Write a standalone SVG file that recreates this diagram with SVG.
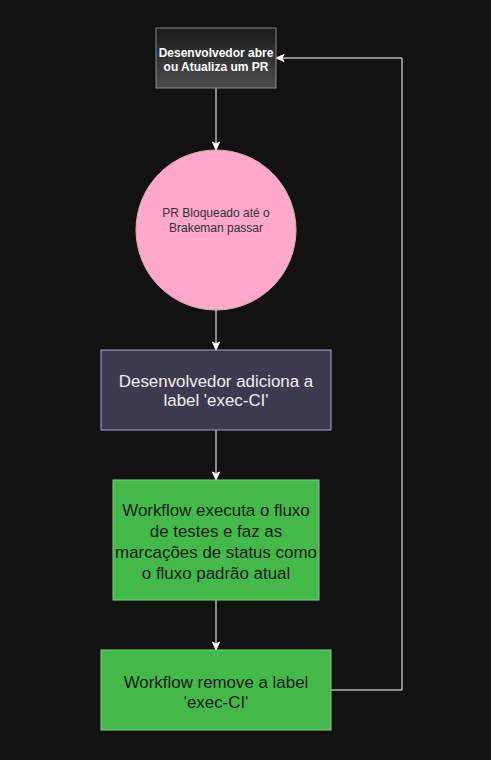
<svg xmlns="http://www.w3.org/2000/svg" width="491" height="760" viewBox="0 0 491 760">
<defs>
<linearGradient id="g1" x1="0" y1="0" x2="0" y2="1">
<stop offset="0" stop-color="#1a1a1a"/>
<stop offset="1" stop-color="#4d4d4d"/>
</linearGradient>
<marker id="arr" markerWidth="10" markerHeight="10" refX="8" refY="5" orient="auto" markerUnits="userSpaceOnUse">
<path d="M1,1.5 L9,5 L1,8.5 L3,5 Z" fill="#ffffff" stroke="#ffffff" stroke-width="1"/>
</marker>
<style>
text{font-family:"Liberation Sans",Arial,Helvetica,sans-serif;text-anchor:middle;}
.conn{fill:none;stroke:#ffffff;stroke-width:1;marker-end:url(#arr);}
.green{fill:#43b94a;stroke:#82cd7e;stroke-width:1;}
.dk{fill:#1a1a1a;font-size:16.9px;}
.lt{fill:#f0f0f0;font-size:16.9px;}
</style>
</defs>
<rect x="0" y="0" width="491" height="760" fill="#121212"/>
<g id="connectors">
<path class="conn" d="M216,88 L216,149"/>
<path class="conn" d="M216,310 L216,349"/>
<path class="conn" d="M216,430 L216,479"/>
<path class="conn" d="M216,600 L216,649"/>
<path class="conn" d="M331,690 L402,690 L402,58 L277,58"/>
</g>
<g id="n1">
<rect x="156" y="28" width="120" height="60" fill="url(#g1)" stroke="#8a8a8a" stroke-width="1"/>
<text x="216" y="57" font-size="12" font-weight="bold" fill="#ffffff">Desenvolvedor abre</text>
<text x="216" y="71" font-size="12" font-weight="bold" fill="#ffffff">ou Atualiza um PR</text>
</g>
<g id="n2">
<circle cx="216" cy="230" r="80" fill="#ffa8cb" stroke="#d8b0a8" stroke-width="1"/>
<text x="216" y="217" font-size="12" fill="#333333">PR Bloqueado até o</text>
<text x="216" y="232" font-size="12" fill="#333333">Brakeman passar</text>
</g>
<g id="n3">
<rect x="101" y="350" width="230" height="80" fill="#3d3a4e" stroke="#a8a3d0" stroke-width="1"/>
<text class="lt" x="216" y="387">Desenvolvedor adiciona a</text>
<text class="lt" x="216" y="406">label 'exec-CI'</text>
</g>
<g id="n4">
<rect class="green" x="113" y="480" width="206" height="120"/>
<text class="dk" x="216" y="516">Workflow executa o fluxo</text>
<text class="dk" x="216" y="537">de testes e faz as</text>
<text class="dk" x="216" y="558">marcações de status como</text>
<text class="dk" x="216" y="579">o fluxo padrão atual</text>
</g>
<g id="n5">
<rect class="green" x="101" y="650" width="230" height="80"/>
<text class="dk" x="216" y="688">Workflow remove a label</text>
<text class="dk" x="216" y="708">'exec-CI'</text>
</g>
</svg>
